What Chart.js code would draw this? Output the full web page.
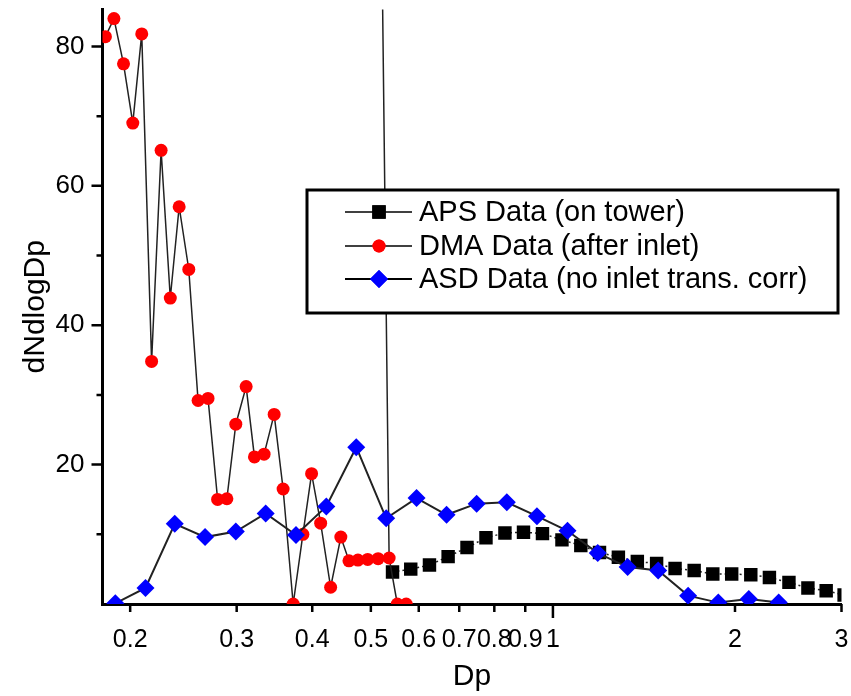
<!DOCTYPE html>
<html>
<head>
<meta charset="utf-8">
<script src="https://cdn.jsdelivr.net/npm/chart.js@4.4.1/dist/chart.umd.min.js"></script>
<style>
  html, body { margin: 0; padding: 0; background: #fff; }
</style>
</head>
<body>
<canvas id="dpChart" width="851" height="696"></canvas>
<script>
// APS Data (on tower)
var dpAPS = [0.543,0.582,0.625,0.671,0.721,0.775,0.833,0.894,0.961,1.035,1.112,1.194,1.283,1.379,1.484,1.592,1.712,1.838,1.975,2.124,2.28,2.456,2.64,2.83,3.03];
var dnAPS = [4.6,5.0,5.6,6.8,8.1,9.5,10.2,10.3,10.1,9.2,8.4,7.4,6.7,6.1,5.8,5.1,4.8,4.3,4.3,4.2,3.8,3.1,2.3,1.9,1.3];

// DMA Data (after inlet) - one gap, then a value far above the top of the plot
var dpDMA = [0.182,0.188,0.195,0.202,0.209,0.217,0.225,0.233,0.241,0.250,0.259,0.269,0.279,0.289,0.299,0.311,0.321,0.333,0.346,0.358,0.372,0.386,0.399,0.413,0.429,0.446,0.460,0.476,0.494,0.514,0.52,0.489,0.536,0.553,0.572];
var dnDMA = [81.4,84.0,77.5,69.0,81.8,34.8,65.1,43.9,57.0,48.0,29.2,29.5,15.0,15.1,25.8,31.2,21.1,21.5,27.2,16.5,0,10.0,18.7,11.6,2.4,9.6,6.2,6.3,6.4,6.5,null,300,6.6,0,0];

// ASD Data (no inlet trans. corr)
var dpASD = [0.189,0.212,0.237,0.266,0.299,0.335,0.376,0.422,0.473,0.530,0.595,0.667,0.748,0.839,0.941,1.057,1.186,1.329,1.493,1.673,1.877,2.108,2.362];
var dnASD = [0.1,2.3,11.5,9.6,10.4,13.0,9.9,14.0,22.5,12.3,15.2,12.8,14.4,14.6,12.6,10.5,7.3,5.3,4.8,1.2,0.2,0.7,0.2];

var seriesNames = ['APS Data (on tower)', 'DMA Data (after inlet)', 'ASD Data (no inlet trans. corr)'];

// axis ticks
var xTicks = [0.2,0.3,0.4,0.5,0.6,0.7,0.8,0.9,1,2,3];
var xLongTicks = [1];
var yTicks = [20,40,60,80];
var yMinorTicks = [10,30,50,70];

function pairs(xs, ys) {
  return xs.map(function(x, i) { return {x: x, y: ys[i]}; });
}

var FONT = '"Liberation Sans", Arial, sans-serif';

// tick marks drawn outside the axes
var tickMarks = {
  id: 'tickMarks',
  afterDraw: function(chart) {
    var ctx = chart.ctx, a = chart.chartArea;
    var xs = chart.scales.x, ys = chart.scales.y;
    ctx.save();
    ctx.strokeStyle = '#000';
    ctx.lineWidth = 2.5;
    ctx.beginPath();
    yTicks.forEach(function(v) {
      var p = ys.getPixelForValue(v);
      ctx.moveTo(a.left - 11, p); ctx.lineTo(a.left, p);
    });
    yMinorTicks.forEach(function(v) {
      var p = ys.getPixelForValue(v);
      ctx.moveTo(a.left - 6, p); ctx.lineTo(a.left, p);
    });
    xTicks.forEach(function(v) {
      var p = xs.getPixelForValue(v);
      var len = xLongTicks.indexOf(v) >= 0 ? 14 : 8;
      ctx.moveTo(p, a.bottom); ctx.lineTo(p, a.bottom + len);
    });
    ctx.stroke();
    ctx.restore();
  }
};

// boxed legend with line + marker samples
var boxLegend = {
  id: 'boxLegend',
  afterDraw: function(chart) {
    var ctx = chart.ctx;
    var bx = 307, by = 190, bw = 531, bh = 123;
    var rows = [212, 246, 279];
    ctx.save();
    ctx.fillStyle = '#fff';
    ctx.fillRect(bx, by, bw, bh);
    ctx.strokeStyle = '#000';
    ctx.lineWidth = 3;
    ctx.strokeRect(bx, by, bw, bh);
    chart.data.datasets.forEach(function(ds, i) {
      var y = rows[i];
      ctx.strokeStyle = '#000';
      ctx.lineWidth = ds.borderWidth;
      ctx.setLineDash([]);
      ctx.beginPath();
      ctx.moveTo(345, y); ctx.lineTo(412, y);
      ctx.stroke();
      ctx.fillStyle = ds.pointBackgroundColor;
      Chart.helpers.drawPoint(ctx, {
        pointStyle: ds.pointStyle, radius: ds.pointRadius, rotation: 0, borderWidth: 0
      }, 379, y);
      ctx.fill();
      ctx.fillStyle = '#000';
      ctx.font = '29px ' + FONT;
      ctx.textBaseline = 'middle';
      ctx.textAlign = 'left';
      ctx.fillText(ds.label, 419, y + 1);
    });
    ctx.restore();
  }
};

new Chart(document.getElementById('dpChart'), {
  type: 'line',
  data: {
    datasets: [{
      label: seriesNames[0],
      data: pairs(dpAPS, dnAPS),
      borderColor: '#222',
      borderWidth: 1.5,
      borderDash: [2, 3],
      pointStyle: 'rect',
      pointRadius: 9.5,
      pointBackgroundColor: '#000',
      pointBorderWidth: 0,
      order: 2
    }, {
      label: seriesNames[1],
      data: pairs(dpDMA, dnDMA),
      borderColor: '#222',
      borderWidth: 1.5,
      pointStyle: 'circle',
      pointRadius: 6.5,
      pointBackgroundColor: '#ff0000',
      pointBorderWidth: 0,
      spanGaps: false,
      order: 1
    }, {
      label: seriesNames[2],
      data: pairs(dpASD, dnASD),
      borderColor: '#222',
      borderWidth: 2,
      pointStyle: 'rectRot',
      pointRadius: 9,
      pointBackgroundColor: '#0000ff',
      pointBorderWidth: 0,
      order: 0
    }] // datasets
  }, // data
  options: {
    responsive: false,
    animation: false,
    layout: { padding: { top: 8, right: 8, left: 0, bottom: 0 } },
    plugins: {
      legend: { display: false },
      tooltip: { enabled: false }
    },
    scales: {
      x: {
        type: 'logarithmic',
        min: 0.18,
        max: 3.0,
        afterFit: function(s) {
          s.height = 92;
          s.paddingLeft = 0; s.paddingRight = 0;
        },
        afterBuildTicks: function(s) {
          s.ticks = xTicks.map(function(v) { return {value: v}; });
        },
        grid: { display: false, drawTicks: false },
        border: { display: true, color: '#000', width: 3 },
        ticks: {
          autoSkip: false,
          maxRotation: 0,
          padding: 21,
          color: '#000',
          font: { family: FONT, size: 25 },
          callback: function(v) { return String(v); }
        },
        title: {
          display: true,
          text: 'Dp',
          color: '#000',
          font: { family: FONT, size: 30 },
          padding: { top: 0, bottom: 1 }
        }
      },
      y: {
        type: 'linear',
        min: 0,
        max: 85.3,
        afterFit: function(s) {
          s.width = 102.5;
          s.paddingTop = 0; s.paddingBottom = 0;
        },
        afterBuildTicks: function(s) {
          s.ticks = yTicks.map(function(v) { return {value: v}; });
        },
        grid: { display: false, drawTicks: false },
        border: { display: true, color: '#000', width: 3 },
        ticks: {
          padding: 18,
          color: '#000',
          font: { family: FONT, size: 26 }
        },
        title: {
          display: true,
          text: 'dNdlogDp',
          color: '#000',
          font: { family: FONT, size: 30 },
          padding: { top: 18, bottom: 0 }
        }
      }
    } // scales
  }, // options
  plugins: [tickMarks, boxLegend]
}); // chart end
</script>
</body>
</html>
